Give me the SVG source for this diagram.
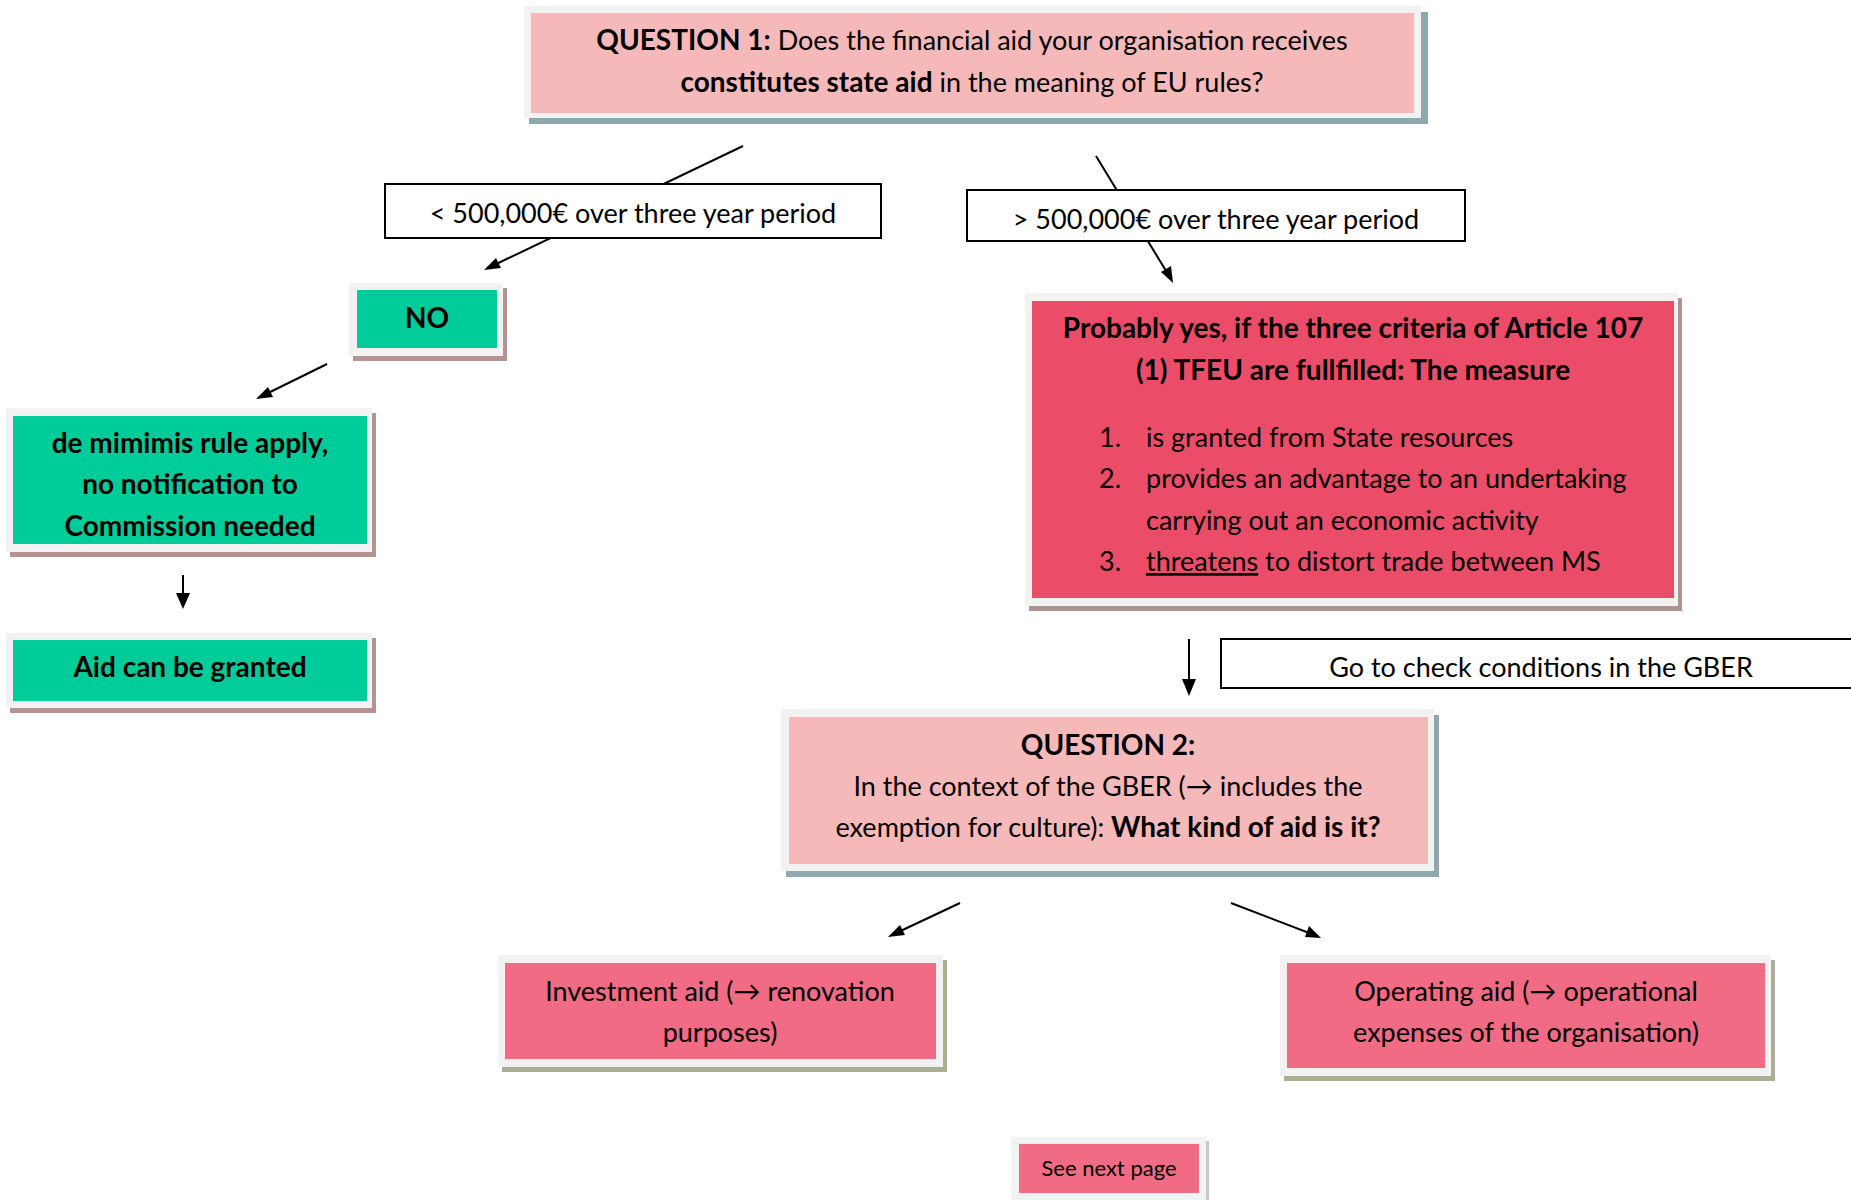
<svg xmlns="http://www.w3.org/2000/svg" width="1851" height="1200" viewBox="0 0 1851 1200">
<defs>
<style>
text{font-family:Lato,"Liberation Sans",sans-serif;fill:#000;font-size:27px;}
.t{text-anchor:middle;}
.b{font-weight:bold;font-size:28px;}
.frame{fill:#f2f2f2;}
.lbl{fill:#fff;stroke:#000;stroke-width:2;}
.ln{stroke:#000;stroke-width:2;fill:none;}
</style>
</defs>
<rect width="1851" height="1200" fill="#fff"/>

<g id="connectors">
<line class="ln" x1="743" y1="146" x2="488" y2="268"/>
<path d="M484,270 l17,-2 l-5,-10 z" fill="#000"/>
<line class="ln" x1="1096" y1="156" x2="1171" y2="279"/>
<path d="M1173,283 l-2,-17 l-10,6 z" fill="#000"/>
<line class="ln" x1="327" y1="364" x2="260" y2="397"/>
<path d="M256,399 l17,-2 l-5,-10 z" fill="#000"/>
<line class="ln" x1="183" y1="575" x2="183" y2="595"/>
<path d="M183,609 l-7,-16 l14,0 z" fill="#000"/>
<line class="ln" x1="1189" y1="639" x2="1189" y2="680"/>
<path d="M1189,696 l-7,-17 l14,0 z" fill="#000"/>
<line class="ln" x1="960" y1="903" x2="892" y2="935"/>
<path d="M888,937 l17,-2 l-5,-10 z" fill="#000"/>
<line class="ln" x1="1231" y1="903" x2="1317" y2="936"/>
<path d="M1321,938 l-12,-12 l-4,11 z" fill="#000"/>
</g>

<g id="q1">
<rect x="529" y="12" width="899" height="112" fill="#8fa8ad"/>
<rect class="frame" x="524" y="6" width="897" height="112"/>
<rect x="531" y="13" width="883" height="100" fill="#f5b9ba"/>
<text class="t" x="972" y="50"><tspan class="b">QUESTION 1:</tspan> Does the financial aid your organisation receives</text>
<text class="t" x="972" y="92"><tspan class="b">constitutes state aid</tspan> in the meaning of EU rules?</text>
</g>

<g id="lbl-less">
<rect class="lbl" x="385" y="184" width="496" height="54"/>
<text class="t" x="633" y="223">&lt; 500,000€ over three year period</text>
</g>

<g id="lbl-more">
<rect class="lbl" x="967" y="190" width="498" height="51"/>
<text class="t" x="1216" y="229">&gt; 500,000€ over three year period</text>
</g>

<g id="no">
<rect x="353" y="288" width="154" height="73" fill="#b59391"/>
<rect class="frame" x="349" y="283" width="154" height="73"/>
<rect x="357" y="290" width="140" height="58" fill="#00cc99"/>
<text class="t b" x="427" y="328">NO</text>
</g>

<g id="deminimis">
<rect x="10" y="413" width="366" height="144" fill="#b59391"/>
<rect class="frame" x="6" y="408" width="366" height="144"/>
<rect x="13" y="416" width="354" height="128" fill="#00cc99"/>
<text class="t b" x="190" y="453">de mimimis rule apply,</text>
<text class="t b" x="190" y="494">no notification to</text>
<text class="t b" x="190" y="536">Commission needed</text>
</g>

<g id="granted">
<rect x="10" y="638" width="366" height="75" fill="#b59391"/>
<rect class="frame" x="6" y="633" width="366" height="75"/>
<rect x="13" y="640" width="354" height="61" fill="#00cc99"/>
<text class="t b" x="190" y="677">Aid can be granted</text>
</g>

<g id="probably">
<rect x="1029" y="298" width="653" height="313" fill="#b09290"/>
<rect class="frame" x="1025" y="293" width="653" height="313"/>
<rect x="1032" y="301" width="642" height="297" fill="#eb4d69"/>
<text class="t b" x="1353" y="338">Probably yes, if the three criteria of Article 107</text>
<text class="t b" x="1353" y="380">(1) TFEU are fullfilled: The measure</text>
<text x="1099" y="447">1.</text>
<text x="1146" y="447">is granted from State resources</text>
<text x="1099" y="488">2.</text>
<text x="1146" y="488">provides an advantage to an undertaking</text>
<text x="1146" y="530">carrying out an economic activity</text>
<text x="1099" y="571">3.</text>
<text x="1146" y="571"><tspan text-decoration="underline">threatens</tspan> to distort trade between MS</text>
</g>

<g id="gber">
<rect class="lbl" x="1221" y="639" width="640" height="49"/>
<text class="t" x="1541" y="677">Go to check conditions in  the GBER</text>
</g>

<g id="q2">
<rect x="786" y="715" width="653" height="162" fill="#8fa8ad"/>
<rect class="frame" x="781" y="709" width="653" height="162"/>
<rect x="789" y="717" width="639" height="147" fill="#f5b9ba"/>
<text class="t b" x="1108" y="755">QUESTION 2:</text>
<text class="t" x="1108" y="796">In the context of the GBER (→ includes the</text>
<text class="t" x="1108" y="837">exemption for culture): <tspan class="b">What kind of aid is it?</tspan></text>
</g>

<g id="investment">
<rect x="502" y="960" width="445" height="112" fill="#a9ae95"/>
<rect class="frame" x="498" y="955" width="445" height="112"/>
<rect x="505" y="963" width="431" height="96" fill="#f06b83"/>
<text class="t" x="720" y="1001">Investment aid (→ renovation</text>
<text class="t" x="720" y="1042">purposes)</text>
</g>

<g id="operating">
<rect x="1284" y="960" width="491" height="121" fill="#a9ae95"/>
<rect class="frame" x="1280" y="955" width="491" height="121"/>
<rect x="1287" y="963" width="478" height="105" fill="#f06b83"/>
<text class="t" x="1526" y="1001">Operating aid (→ operational</text>
<text class="t" x="1526" y="1042">expenses of the organisation)</text>
</g>

<g id="nextpage">
<rect x="1014" y="1141" width="195" height="60" fill="#c9c9c9"/>
<rect class="frame" x="1011" y="1137" width="195" height="63"/>
<rect x="1019" y="1144" width="180" height="49" fill="#f06b83"/>
<text x="1109" y="1176" font-size="22" text-anchor="middle" style="font-size:22px">See next page</text>
</g>
</svg>
